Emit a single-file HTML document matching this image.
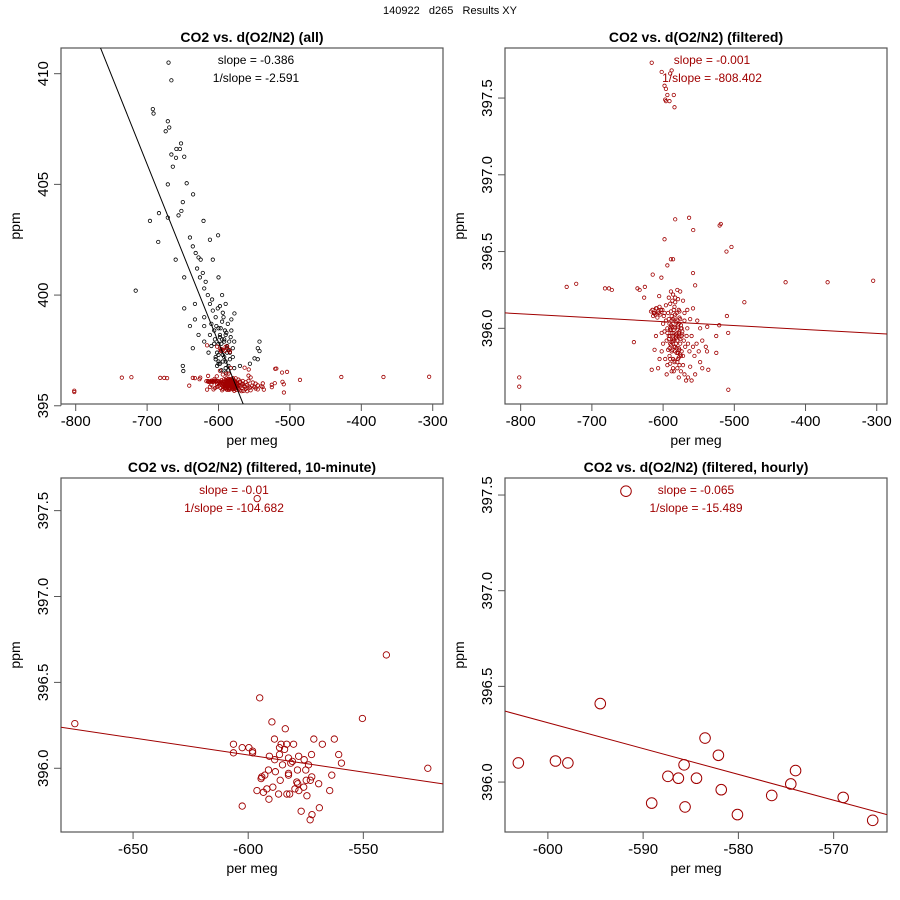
<!DOCTYPE html>
<html><head><meta charset="utf-8"><style>
body{margin:0;background:#fff;}
svg{display:block;font-family:"Liberation Sans",Arial,sans-serif;}
</style></head><body>
<svg id="c" width="900" height="900" xmlns="http://www.w3.org/2000/svg">
<rect width="900" height="900" fill="#fff"/>
<text x="450" y="14" text-anchor="middle" font-size="11" xml:space="preserve">140922   d265   Results XY</text>
</svg>
<script>
// ---- data ----
const blackOnlyX=[-670,-666,-692,-691,-671,-669,-674,-652.5,-659,-654,-666,-659.5,-648,-664,-671,-644.6,-635.6,-650,-652,-656,-683.4,-696,-671,-621,-600.6,-684.4,-716,
-640,-636,-632,-628,-630,-625,-622,-618,-626,-620,-615,-612,-608,-620,-604,-610,-600,-595,-598,-605,-592,-596,-588,-610,-602,-594,-584,-600,-590,-580,-586,-596,-578,-570,-545,-545,-556,-633,-648,-633,-640,-628,-636,-620,-614,-612,-590,-595,-600,-608,-612,-660,-648,-620,-582,-578,-650,-577.7,-542.6,-542.6,-549.6,-649.3,-606,-598,-592,-588,-604,-600,-596,-590,-586,-582,-594,-598,
-604,-600,-596,-592,-588,-584,-602,-598,-594,-590,-586,-606,-600,-595,-590,-585,-580,-603,-597,-591,-587,-583,-609,-601,-593,-589];
const blackOnlyY=[410.5,409.7,408.4,408.2,407.85,407.57,407.4,406.85,406.6,406.6,406.35,406.2,406.25,405.8,405.0,405.05,404.55,404.2,403.8,403.6,403.7,403.35,403.5,403.35,402.7,402.4,400.2,
402.6,402.2,401.9,401.7,401.2,401.6,401.0,400.6,400.8,400.3,400.0,399.6,399.3,399.0,399.0,398.7,398.5,398.8,398.2,398.0,398.0,397.8,397.6,397.7,397.4,397.3,397.4,397.0,397.0,397.2,396.8,396.6,396.7,396.8,397.6,397.1,396.9,399.6,399.4,398.9,398.6,398.2,397.6,397.9,397.4,398.2,399.6,400.0,400.8,401.6,402.5,401.6,400.8,398.6,398.4,397.9,396.8,399.17,397.9,397.47,397.14,396.57,398.4,398.1,397.9,397.7,397.2,396.9,396.6,396.5,397.5,398.9,399.2,399.5,
397.1,397.3,397.5,397.2,397.4,397.1,396.8,396.9,397.0,396.7,396.6,397.8,397.8,398.0,398.2,397.9,397.6,398.6,398.5,398.4,398.7,398.1,399.8,399.4,399.0,398.3];
const filtX=[-616,-602,-588,-590,-598,-596,-594,-585,-597,-591,-596,-584,
-583,-563.5,-557.7,-520.6,-519,-598,-504,-511,-586,-589,-594,-614.6,-602.4,-558,
-735.4,-722,-681.6,-676,-672,-636,-633,-625.6,-428,-369,-305,-485.9,-626.6,-605.5,
-802,-802,-508.4,-641,-616,-536.5,-525.3,-538.3,-567.8,-510.4,-508.6,-521.2,-525.4,
-615,-612,-610,-607,-604,-601,-598,-614,-608,-605,-596,-592,-589,-586,-583,-580,-576,-572,-566,-562,-558,-555,-590,-584,-578,-570,
-596,-594,-592,-590,-588,-586,-584,-595,-593,-591,-589,-587,-585,-583,-581,-579,-577,-582,-580,-578,-576,-574,-572,-588,-586,-584,-590,-582,-580,-578,-576,-575,-573,-571,-569,-567,-565,-563,-570,-566,-598,-600,-602,-597,-594,-600,-585,-580,-575,-572,-590,-560,-558,-556,-553,-550,-548,-562,-545,-555,-570,-578,-588,-610,-605,-612,-607,-595,-565,-560,-545,-540,-538,-552,-548,-602,-583,-577,
-591,-589,-587,-585,-583,-581,-579,-577,-575,-573,-592,-590,-588,-586,-584,-582,-580,-578,-576,-574,-591,-589,-587,-585,-583,-581,-579,-577,-575,-593,-589,-585,-581,-577,-587,-583,-579,-590,-584,-578,-586,-580,-592,-588,-584,-580,-576,-594,-590,-586,-582,-578,-574,-613,-609,-606,-603,-617,-611,-599];
const filtY=[397.73,397.67,397.68,397.66,397.58,397.56,397.52,397.52,397.49,397.48,397.48,397.44,
396.71,396.72,396.64,396.67,396.68,396.58,396.53,396.50,396.45,396.45,396.41,396.35,396.33,396.36,
396.27,396.29,396.26,396.26,396.25,396.26,396.25,396.27,396.30,396.30,396.31,396.17,396.20,396.21,
395.68,395.62,395.60,395.91,395.73,395.73,395.84,395.85,395.66,396.08,395.97,396.02,395.95,
396.12,396.10,396.13,396.11,396.09,396.12,396.10,396.08,396.07,396.14,396.15,396.20,396.24,396.22,396.20,396.25,396.24,396.18,396.12,396.06,396.13,396.28,396.16,396.14,396.12,396.10,
396.05,396.0,395.95,395.9,395.85,395.8,395.78,395.92,395.86,395.82,396.02,395.97,395.93,395.88,395.84,395.8,395.76,396.04,395.99,395.94,395.9,395.85,395.82,396.08,396.06,396.01,396.0,395.96,395.92,395.87,395.83,396.02,395.96,395.92,395.88,395.95,395.9,395.85,396.05,396.0,395.98,395.9,395.85,395.8,395.76,396.03,395.72,395.74,395.72,395.76,395.77,395.95,395.88,395.82,395.9,395.85,395.78,395.75,395.92,395.7,395.7,395.68,395.72,395.95,395.8,395.86,395.74,395.7,395.68,395.66,395.74,395.88,396.01,396.05,396.0,395.97,396.09,396.07,
396.03,395.99,396.01,395.97,396.0,395.96,396.02,395.98,396.0,395.98,395.93,395.95,395.91,395.94,395.92,395.9,395.95,395.97,395.93,395.95,395.87,395.89,395.86,395.88,395.85,395.87,395.84,395.86,395.82,396.1,396.11,396.12,396.1,396.11,396.18,396.17,396.19,395.8,395.79,395.81,395.74,395.78,396.06,396.05,396.07,396.05,396.06,395.97,395.99,395.92,395.94,396.03,396.0,396.1,396.13,396.1,396.12,396.11,396.09,396.08];
const tenX=[-675.3,-596.1,-540,-595,-550.4,-522,-589.7,-583.9,-588.6,-606.4,-606.4,-602.6,-599.7,-598.1,-598.1,-585.7,-583.3,-580.3,-571.5,-567.8,-562.6,-560.7,-559.5,-572.5,-586.4,-584.2,-586.4,-590.8,
-588.5,-582.5,-578.1,-581.5,-580.8,-585.1,-578.6,-575,-573.8,-575.7,
-594.1,-591.2,-588.2,-592.8,-594.4,-582.5,-582.5,-586.1,-578.9,-578.5,-574.8,-572.4,-573,-569.4,-563.7,
-596.2,-593.4,-591,-591.9,-589.3,-586.8,-583.2,-582,-579.7,-578,-575.9,-574.5,-564.6,
-602.6,-577,-572.3,-573.1,-569.1];
const tenY=[396.26,397.57,396.66,396.41,396.29,396.0,396.27,396.23,396.17,396.14,396.09,396.12,396.12,396.09,396.1,396.14,396.14,396.14,396.17,396.14,396.17,396.08,396.03,396.08,396.12,396.11,396.08,396.07,
396.05,396.06,396.07,396.03,396.04,396.02,395.99,395.99,396.02,396.05,
395.95,395.99,395.98,395.96,395.94,395.97,395.96,395.93,395.92,395.91,395.93,395.95,395.93,395.91,395.96,
395.87,395.86,395.82,395.88,395.89,395.85,395.85,395.85,395.88,395.87,395.89,395.84,395.87,
395.78,395.75,395.73,395.70,395.77];
const hourX=[-591.8,-594.5,-603.1,-599.2,-597.9,-589.1,-587.4,-586.3,-585.7,-585.6,-584.4,-583.5,-582.1,-581.8,-580.1,-576.5,-574.5,-574,-569,-565.9];
const hourY=[397.52,396.41,396.10,396.11,396.10,395.89,396.03,396.02,396.09,395.87,396.02,396.23,396.14,395.96,395.83,395.93,395.99,396.06,395.92,395.80];
const xTicksWide=[-800,-700,-600,-500,-400,-300];
const yTicksAll=[395,400,405,410];
const yTicksFilt=[396.0,396.5,397.0,397.5];
const xTicksTen=[-650,-600,-550];
const xTicksHour=[-600,-590,-580,-570];
const lineSlopes=[-0.0805,-0.000256,-0.001987,-0.0135];
const lineIntercepts=[349.56,395.89,394.885,388.21];

const NS="http://www.w3.org/2000/svg";
const svg=document.getElementById('c');
const RED="#a00000";
function mk(tag,attrs,parent){const e=document.createElementNS(NS,tag);for(const k in attrs)e.setAttribute(k,attrs[k]);(parent||svg).appendChild(e);return e;}

function panel(id,box,xd,yd,title,xt,yt,yfmt){
  const g=mk('g',{});
  
  
  const sx=v=>box.L+(v-xd[0])/(xd[1]-xd[0])*(box.R-box.L);
  const sy=v=>box.B-(v-yd[0])/(yd[1]-yd[0])*(box.B-box.T);
  const cp=mk('clipPath',{id:id+'-clip'},g);
  mk('rect',{x:box.L,y:box.T,width:box.R-box.L,height:box.B-box.T},cp);
  const t=mk('text',{x:(box.L+box.R)/2,y:box.T-6,'text-anchor':'middle','font-size':'14','font-weight':'bold'},g);
  t.textContent=title;
  
  
  const fr=mk('rect',{x:box.L,y:box.T,width:box.R-box.L,height:box.B-box.T,fill:'none',stroke:'#555','stroke-width':1.2},g);
  
  
  const xa=mk('g',{},g);
  
  
  mk('line',{x1:sx(xt[0]),x2:sx(xt[xt.length-1]),y1:box.B,y2:box.B,stroke:'#555'},xa);
  xt.forEach(v=>{mk('line',{x1:sx(v),x2:sx(v),y1:box.B,y2:box.B+7,stroke:'#555'},xa);
    const l=mk('text',{x:sx(v),y:box.B+22,'text-anchor':'middle','font-size':'15'},xa);l.textContent=v;
    
    });
  const xl=mk('text',{x:(box.L+box.R)/2,y:box.B+41,'text-anchor':'middle','font-size':'14'},g);xl.textContent='per meg';
  
  
  const ya=mk('g',{},g);
  
  
  mk('line',{x1:box.L,x2:box.L,y1:sy(yt[0]),y2:sy(yt[yt.length-1]),stroke:'#555'},ya);
  yt.forEach(v=>{mk('line',{x1:box.L-7,x2:box.L,y1:sy(v),y2:sy(v),stroke:'#555'},ya);
    const l=mk('text',{x:box.L-13,y:sy(v),'text-anchor':'middle','font-size':'15',transform:`rotate(-90 ${box.L-13} ${sy(v)})`},ya);l.textContent=yfmt(v);
    
    });
  const yl=mk('text',{x:box.L-41,y:(box.T+box.B)/2,'text-anchor':'middle','font-size':'14',transform:`rotate(-90 ${box.L-41} ${(box.T+box.B)/2})`},g);yl.textContent='ppm';
  
  
  const pg=mk('g',{'clip-path':`url(#${id}-clip)`},g);
  
  
  return {g,pg,sx,sy,xd,box};
}
function points(P,xs,ys,r,col,sw,name){
  const g=mk('g',{},P.pg);
  
  
  xs.forEach((x,i)=>{const c=mk('circle',{cx:P.sx(x),cy:P.sy(ys[i]),r:r,fill:'none',stroke:col,'stroke-width':sw},g);
    
    });
}
function fitline(P,i,col){
  const x0=P.xd[0],x1=P.xd[1];
  const l=mk('line',{x1:P.sx(x0),y1:P.sy(lineIntercepts[i]+lineSlopes[i]*x0),x2:P.sx(x1),y2:P.sy(lineIntercepts[i]+lineSlopes[i]*x1),stroke:col,'stroke-width':1},P.pg);
  
  
}
function annot(P,cx,t1,t2,col){
  [t1,t2].forEach((s,k)=>{const t=mk('text',{x:cx,y:P.box.T+16+k*18,'text-anchor':'middle','font-size':'12',fill:col},P.g);t.textContent=s;
    
    });
}
const f0=v=>String(v), f1=v=>v.toFixed(1);

const P1=panel('panel-all',{L:61,R:443,T:48,B:404},[-820.6,-285.6],[395.08,411.16],'CO2 vs. d(O2/N2) (all)',xTicksWide,yTicksAll,f0);
points(P1,blackOnlyX,blackOnlyY,1.7,'#000',0.8,'unfiltered-points');
points(P1,filtX,filtY,1.7,RED,0.8,'filtered-points');
fitline(P1,0,'#000');
annot(P1,256,'slope = -0.386','1/slope = -2.591','#000');

const P2=panel('panel-filtered',{L:505,R:887,T:48,B:404},[-822,-285.6],[395.507,397.826],'CO2 vs. d(O2/N2) (filtered)',xTicksWide,yTicksFilt,f1);
points(P2,filtX,filtY,1.7,RED,0.8,'filtered-points');
fitline(P2,1,RED);
annot(P2,712,'slope = -0.001','1/slope = -808.402',RED);

const P3=panel('panel-10min',{L:61,R:443,T:478,B:832},[-681.3,-515.4],[395.629,397.69],'CO2 vs. d(O2/N2) (filtered, 10-minute)',xTicksTen,yTicksFilt,f1);
points(P3,tenX,tenY,3.2,RED,0.9,'ten-minute-points');
fitline(P3,2,RED);
annot(P3,234,'slope = -0.01','1/slope = -104.682',RED);

const P4=panel('panel-hourly',{L:505,R:887,T:478,B:832},[-604.5,-564.4],[395.739,397.589],'CO2 vs. d(O2/N2) (filtered, hourly)',xTicksHour,yTicksFilt,f1);
points(P4,hourX,hourY,5.3,RED,1,'hourly-points');
fitline(P4,3,RED);
annot(P4,696,'slope = -0.065','1/slope = -15.489',RED);
</script>
</body></html>
